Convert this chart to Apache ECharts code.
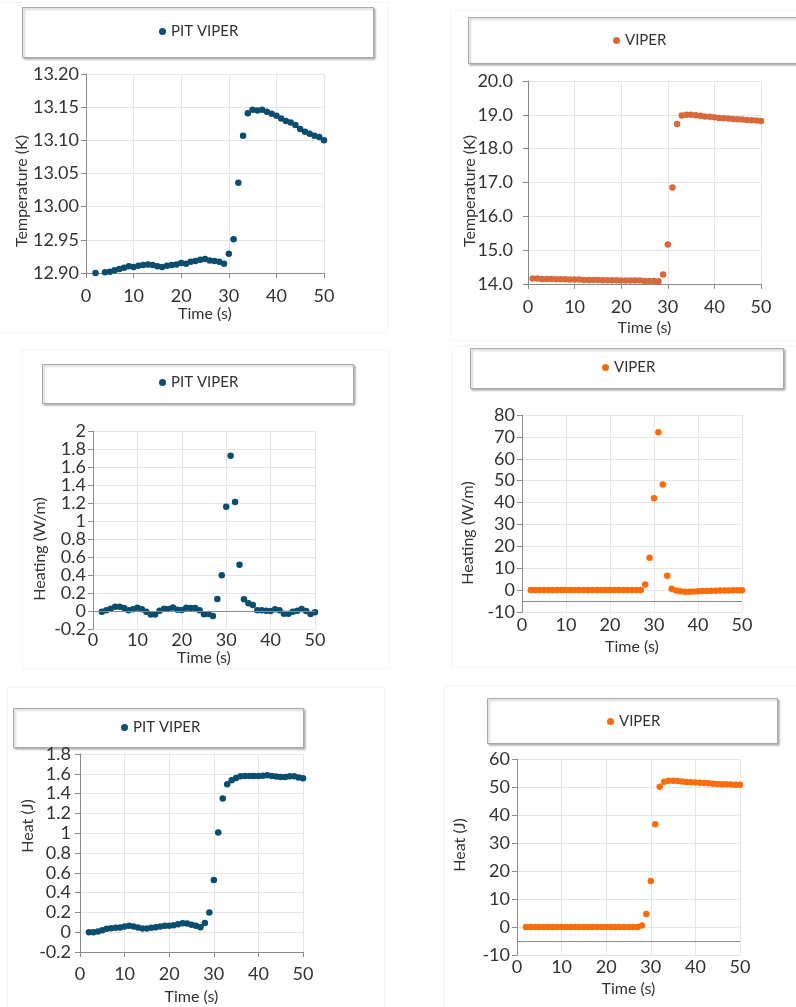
<!DOCTYPE html>
<html>
<head>
<meta charset="utf-8">
<script src="https://cdn.jsdelivr.net/npm/echarts@6/dist/echarts.min.js"></script>
<style>
html,body{margin:0;padding:0;background:#fff;}
#chart{width:796px;height:1007px;}
</style>
</head>
<body>
<div id="chart"></div>
<script>
// ---------- DATA ----------
const pitTempTime = [2,4,5,6,7,8,9,10,11,12,13,14,15,16,17,18,19,20,21,22,23,24,25,26,27,28,29,30,31,32,33,34,35,36,37,38,39,40,41,42,43,44,45,46,47,48,49,50];
const pitTempK = [12.900,12.901,12.902,12.904,12.906,12.908,12.910,12.909,12.911,12.912,12.913,12.912,12.910,12.909,12.911,12.912,12.913,12.915,12.914,12.917,12.918,12.920,12.921,12.919,12.918,12.917,12.914,12.929,12.951,13.036,13.107,13.141,13.146,13.145,13.146,13.143,13.140,13.137,13.133,13.129,13.127,13.123,13.117,13.113,13.110,13.107,13.105,13.100];

const viperTempTime = [1,2,3,4,5,6,7,8,9,10,11,12,13,14,15,16,17,18,19,20,21,22,23,24,25,26,27,28,29,30,31,32,33,34,35,36,37,38,39,40,41,42,43,44,45,46,47,48,49,50];
const viperTempK = [14.16,14.16,14.15,14.15,14.15,14.14,14.14,14.14,14.13,14.13,14.13,14.12,14.12,14.12,14.12,14.11,14.11,14.11,14.11,14.10,14.10,14.10,14.10,14.10,14.09,14.09,14.09,14.08,14.28,15.17,16.85,18.73,18.98,19.00,19.00,18.99,18.97,18.95,18.94,18.93,18.91,18.90,18.89,18.88,18.87,18.86,18.85,18.84,18.83,18.82];

const time2to50 = [2,3,4,5,6,7,8,9,10,11,12,13,14,15,16,17,18,19,20,21,22,23,24,25,26,27,28,29,30,31,32,33,34,35,36,37,38,39,40,41,42,43,44,45,46,47,48,49,50];
const pitHeating = [-0.007,0.007,0.026,0.048,0.048,0.033,0.007,0.019,0.037,0.019,-0.007,-0.040,-0.040,0.004,0.026,0.022,0.040,0.015,0.011,0.037,0.033,0.033,0.007,-0.037,-0.033,-0.056,0.133,0.396,1.159,1.726,1.211,0.515,0.130,0.085,0.067,0.007,0.007,0.004,0.000,0.019,0.007,-0.030,-0.030,-0.007,0.004,0.022,0.000,-0.033,-0.015];
const viperHeating = [0,0,0,0,0,0,0,0,0,0,0,0,0,0,0,0,0,0,0,0,0,0,0,0,0,0,2.6,14.8,42.0,72.1,48.3,6.6,0.6,-0.2,-0.5,-0.7,-0.7,-0.6,-0.5,-0.4,-0.4,-0.3,-0.3,-0.2,-0.2,-0.2,-0.1,-0.1,-0.1];
const pitHeat = [0.000,0.000,0.007,0.020,0.034,0.040,0.044,0.047,0.057,0.064,0.057,0.047,0.037,0.037,0.044,0.050,0.057,0.064,0.064,0.071,0.081,0.091,0.088,0.074,0.064,0.050,0.094,0.200,0.527,1.006,1.350,1.494,1.534,1.558,1.575,1.578,1.578,1.578,1.578,1.580,1.585,1.578,1.572,1.568,1.568,1.575,1.575,1.562,1.555];
const viperHeat = [0,0,0,0,0,0,0,0,0,0,0,0,0,0,0,0,0,0,0,0,0,0,0,0,0,0,0.5,4.6,16.4,36.7,50.1,51.9,52.2,52.2,52.1,52.0,51.8,51.7,51.6,51.5,51.4,51.3,51.2,51.1,51.0,51.0,50.9,50.8,50.8];

const seriesNames = ['PIT VIPER','VIPER','PIT VIPER','VIPER','PIT VIPER','VIPER'];
const yTitles = ['Temperature (K)','Temperature (K)','Heating (W/m)','Heating (W/m)','Heat (J)','Heat (J)'];
const xTitle = 'Time (s)';
const xTicks = {min:0, max:50, interval:10};
const yRanges = [
  {min:12.90, max:13.20, interval:0.05},
  {min:14, max:20, interval:1},
  {min:-0.2, max:2, interval:0.2},
  {min:-10, max:80, interval:10},
  {min:-0.2, max:1.8, interval:0.2},
  {min:-10, max:60, interval:10}
];

// ---------- LAYOUT / STYLE ----------
const FONT = 'Lato, "Open Sans", sans-serif';
const TXT = '#333333';
const GRIDC = '#e6e6e6';
const AXC = '#8a8a8a';
const colors = ['#0b4d6e','#d8693b','#0b4d6e','#fd6c0b','#0b4d6e','#fd6c0b'];
const grids = [
  {left:86, top:74, width:238, height:199},
  {left:528, top:81, width:233, height:203},
  {left:93, top:431, width:222, height:198},
  {left:522, top:415, width:220, height:197},
  {left:80, top:754, width:223, height:198},
  {left:517, top:759, width:223, height:196}
];
const yTitlePos = [[22,191],[470,191],[40,549],[468,533],[28,826],[460,845]];
const xNameGap = [30,36,20,27,37,26];
const xLabelMargin = [14,14,2,4,13,3];
const yLabelMargin = [7,15,7,7,9,7];
const legendPos = [[159,24],[613,33],[159,375],[602,360],[121,720],[607,714]];
const legendBoxes = [[22,7,351,50],[468,17,340,46],[42,364,311,39],[470,348,313,40],[13,708,290,39],[487,698,290,45]];
const areaBoxes = [[-1,2,389,330],[450,10,350,330],[22,350,367,318],[451,345,350,322],[7,687,377,330],[444,686,360,330]];
const baseLines = [null,null,0,-5,null,-5];
const xTickShow = [true,true,false,false,true,false];

const datasets = [
  pitTempTime.map((t,i)=>[t,pitTempK[i]]),
  viperTempTime.map((t,i)=>[t,viperTempK[i]]),
  time2to50.map((t,i)=>[t,pitHeating[i]]),
  time2to50.map((t,i)=>[t,viperHeating[i]]),
  time2to50.map((t,i)=>[t,pitHeat[i]]),
  time2to50.map((t,i)=>[t,viperHeat[i]])
];

const yFmt = [
  v=>v.toFixed(2),
  v=>v.toFixed(1),
  v=>String(Math.round(v*10)/10),
  v=>String(Math.round(v)),
  v=>String(Math.round(v*10)/10),
  v=>String(Math.round(v))
];

const option = {
  backgroundColor:'#ffffff',
  animation:false,
  grid: grids.map(g=>Object.assign({containLabel:false}, g)),
  xAxis: grids.map((g,i)=>({
    type:'value', gridIndex:i, min:xTicks.min, max:xTicks.max, interval:xTicks.interval,
    name:xTitle, nameLocation:'middle', nameGap:xNameGap[i],
    nameTextStyle:{fontFamily:FONT, fontSize:16, color:TXT},
    axisLine:{show: baseLines[i]===null, onZero:false, lineStyle:{color:AXC}},
    axisTick:{show:xTickShow[i], length:5, lineStyle:{color:AXC}},
    axisLabel:{fontFamily:FONT, fontSize:18, color:TXT, margin:xLabelMargin[i]},
    splitLine:{show:true, lineStyle:{color:GRIDC}}
  })),
  yAxis: grids.map((g,i)=>({
    type:'value', gridIndex:i, min:yRanges[i].min, max:yRanges[i].max, interval:yRanges[i].interval,
    axisLine:{show:true, onZero:false, lineStyle:{color:AXC}},
    axisTick:{show:true, length:5, lineStyle:{color:AXC}},
    axisLabel:{fontFamily:FONT, fontSize:18, color:TXT, margin:yLabelMargin[i], formatter:yFmt[i]},
    splitLine:{show:true, lineStyle:{color:GRIDC}}
  })),
  legend: seriesNames.map((n,i)=>({
    left:legendPos[i][0], top:legendPos[i][1], padding:0,
    icon:'circle', itemWidth:7, itemHeight:7, itemGap:10,
    textStyle:{fontFamily:FONT, fontSize:15, color:TXT},
    data:[{name:n, itemStyle:{color:colors[i]}}]
  })),
  series: datasets.map((d,i)=>({
    type:'scatter', name:seriesNames[i], xAxisIndex:i, yAxisIndex:i,
    symbol:'circle', symbolSize:6.5,
    itemStyle:{color:colors[i], opacity:1},
    data:d,
    markLine: baseLines[i]===null ? undefined : {
      silent:true, symbol:'none', label:{show:false},
      lineStyle:{color:AXC, type:'solid', width:1},
      data:[{yAxis:baseLines[i]}]
    }
  })),
  graphic: [].concat(
    areaBoxes.map(b=>({type:'rect', silent:true, z:-10, shape:{x:b[0]+0.5,y:b[1]+0.5,width:b[2],height:b[3]}, style:{fill:'none', stroke:'#f3f3f3', lineWidth:1}})),
    legendBoxes.map(b=>({type:'rect', silent:true, z:-5, shape:{x:b[0]+0.5,y:b[1]+0.5,width:b[2],height:b[3]},
      style:{fill:'#ffffff', stroke:'#a9a9a9', lineWidth:1, shadowColor:'rgba(0,0,0,0.3)', shadowBlur:2, shadowOffsetX:1.5, shadowOffsetY:1.5}})),
    yTitles.map((t,i)=>({type:'text', silent:true, x:yTitlePos[i][0], y:yTitlePos[i][1], rotation:Math.PI/2,
      style:{text:t, fontFamily:FONT, fontSize:16, fill:TXT, align:'center', verticalAlign:'middle'}}))
  )
};

const chart = echarts.init(document.getElementById('chart'), null, {renderer:'canvas'});
chart.setOption(option);
</script>
</body>
</html>
